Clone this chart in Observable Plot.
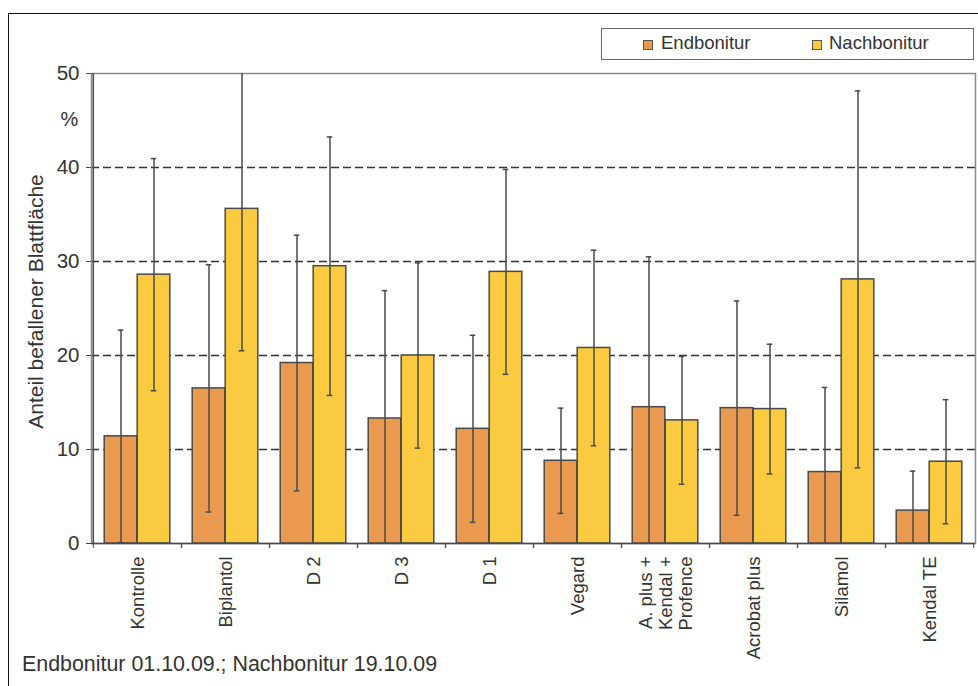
<!DOCTYPE html>
<html>
<head>
<meta charset="utf-8">
<script src="https://cdn.jsdelivr.net/npm/d3@7"></script>
<script src="https://cdn.jsdelivr.net/npm/@observablehq/plot@0.6"></script>
<style>
  body { margin: 0; background: #fff; }
  #wrap { position: relative; width: 978px; height: 686px; overflow: hidden; background: #fff;
          font-family: "Liberation Sans", Arial, sans-serif; color: #333; }
  #outer { position: absolute; left: 8px; top: 13px; width: 1000px; height: 700px;
           border-left: 1px solid #111; border-top: 1px solid #111; }
  #chart { position: absolute; left: 0; top: 0; }
  #legend { position: absolute; left: 601px; top: 28px; width: 373px; height: 32px;
            box-sizing: border-box; border: 1.5px solid #666; background: #fff; }
  .sw { position: absolute; width: 10px; height: 10px; box-sizing: border-box; border: 1px solid #555; top: 11px; }
  .lt { position: absolute; font-size: 18.5px; line-height: 1; top: 5px; color: #333; }
  #caption { position: absolute; left: 22px; top: 654px; font-size: 21.4px; line-height: 1; color: #333; }
</style>
</head>
<body>
<div id="wrap">
  <div id="outer"></div>
  <div id="chart"></div>
  <div id="legend"></div>
  <div id="caption">Endbonitur 01.10.09.; Nachbonitur 19.10.09</div>
</div>
<script>
const categories = ["Kontrolle", "Biplantol", "D 2", "D 3", "D 1", "Vegard",
  "A. plus +\nKendal +\nProfence", "Acrobat plus", "Silamol", "Kendal TE"];
const seriesNames = ["Endbonitur", "Nachbonitur"];
const seriesColors = ["#EA9A4F", "#FACB40"];
const endMean = [11.4, 16.5, 19.2, 13.3, 12.2, 8.8, 14.5, 14.4, 7.6, 3.5];
const endSd   = [11.3, 13.15, 13.6, 13.6, 9.95, 5.6, 16.0, 11.4, 9.0, 4.2];
const nachMean = [28.6, 35.6, 29.5, 20.0, 28.9, 20.8, 13.1, 14.3, 28.1, 8.7];
const nachSd   = [12.35, 15.1, 13.75, 9.85, 10.9, 10.4, 6.8, 6.9, 20.05, 6.6];
const yTicks = [0, 10, 20, 30, 40, 50];
const gridValues = [10, 20, 30, 40];
const yMax = 50;

const W = 978, H = 686;
const mL = 91, mR = 3, mT = 73, mB = 143;
const bw = (W - mL - mR) / categories.length;
const barW = 33;
const pad = (bw - 2 * barW) / 2;
const capW = 6;
const lineC = "#4a4a4a";

const endRows = categories.map((c, i) => ({cat: c, mean: endMean[i], lo: endMean[i] - endSd[i], hi: endMean[i] + endSd[i]}));
const nachRows = categories.map((c, i) => ({cat: c, mean: nachMean[i], lo: nachMean[i] - nachSd[i], hi: nachMean[i] + nachSd[i]}));

function seriesMarks(rows, k) {
  const left = k === 0 ? pad : pad + barW;
  const right = bw - left - barW;
  const center = left + barW / 2;
  const dx = center - bw / 2;
  const capL = center - capW / 2, capR = bw - center - capW / 2;
  return [
    Plot.barY(rows, {x: "cat", y: "mean", fill: seriesColors[k], stroke: lineC, strokeWidth: 1.5,
      insetLeft: left, insetRight: right}),
    Plot.ruleX(rows, {x: "cat", y1: d => Math.max(0, d.lo), y2: d => Math.min(yMax, d.hi), dx,
      stroke: lineC, strokeWidth: 1.5}),
    Plot.tickY(rows.filter(d => d.hi <= yMax), {x: "cat", y: "hi", stroke: lineC, strokeWidth: 1.5,
      insetLeft: capL, insetRight: capR}),
    Plot.tickY(rows.filter(d => d.lo > 0), {x: "cat", y: "lo", stroke: lineC, strokeWidth: 1.5,
      insetLeft: capL, insetRight: capR})
  ];
}

const chart = Plot.plot({
  width: W, height: H,
  marginLeft: mL, marginRight: mR, marginTop: mT, marginBottom: mB,
  style: {background: "transparent", color: "#333", fontFamily: "'Liberation Sans', Arial, sans-serif", fontSize: "20px"},
  x: {type: "band", domain: categories, padding: 0, label: null},
  y: {domain: [0, yMax], label: null},
  marks: [
    Plot.ruleY(gridValues, {stroke: "#333", strokeWidth: 1.5, strokeDasharray: "8,4"}),
    Plot.frame({stroke: "#8a8a8a", strokeWidth: 1.5}),
    ...seriesMarks(endRows, 0),
    ...seriesMarks(nachRows, 1),
    Plot.ruleY([0], {stroke: lineC, strokeWidth: 1.5}),
    Plot.ruleX([categories[0]], {x: d => d, y1: 0, y2: yMax, dx: -bw / 2, stroke: lineC, strokeWidth: 1.5}),
    Plot.axisY({ticks: yTicks, tickSize: 5, tickPadding: 7, stroke: lineC, fontSize: 20.5, label: null}),
    Plot.axisX({tickSize: 0, tickRotate: -90, tickPadding: 13, fontSize: 18.5, lineHeight: 1.1, label: null}),
    Plot.axisX({tickSize: 5, tickFormat: () => "", dx: -bw / 2, stroke: lineC, label: null}),
    Plot.axisX({tickSize: 5, tickFormat: () => "", dx: bw / 2, stroke: lineC, label: null}),
    Plot.text(["%"], {frameAnchor: "top-left", dx: -22, dy: 46, textAnchor: "middle", lineAnchor: "middle",
      fontSize: 20, fill: "#333"}),
    Plot.text(["Anteil befallener Blattfläche"], {frameAnchor: "left", dx: -55, dy: -7, rotate: -90,
      textAnchor: "middle", lineAnchor: "middle", fontSize: 21, fill: "#333"})
  ]
});
document.getElementById("chart").appendChild(chart);

const legend = document.getElementById("legend");
const legendPos = [[41, 59], [210, 227]];
seriesNames.forEach((name, i) => {
  const sw = document.createElement("div");
  sw.className = "sw";
  sw.style.left = legendPos[i][0] + "px";
  sw.style.background = seriesColors[i];
  legend.appendChild(sw);
  const t = document.createElement("div");
  t.className = "lt";
  t.style.left = legendPos[i][1] + "px";
  t.textContent = name;
  legend.appendChild(t);
});
</script>
</body>
</html>
